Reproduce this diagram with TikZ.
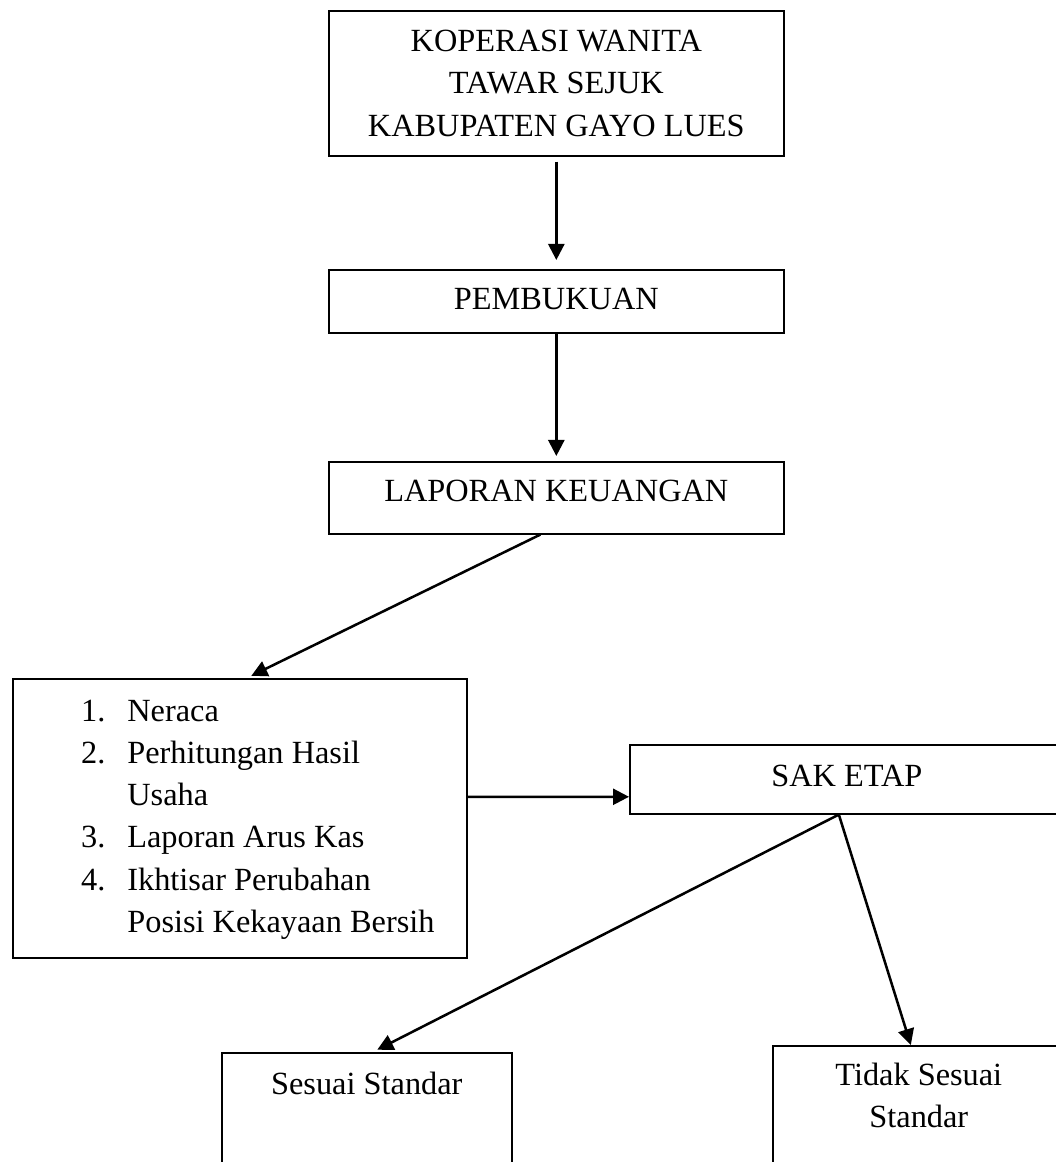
\documentclass[tikz,border=0pt]{standalone}
\usepackage{fontspec}
\setmainfont{Liberation Serif}
\usetikzlibrary{arrows.meta}

\begin{document}
\begin{tikzpicture}[x=0.025cm, y=-0.025cm]
    \tikzset{block/.style={rectangle, draw, line width=1.1pt, inner sep=0pt, anchor=north west, font=\fontsize{23pt}{30pt}\selectfont}}
    \tikzset{line/.style={draw, line width=1.8pt, -{Triangle[length=0.4cm, width=0.4cm]}}}
    \useasboundingbox (0,0) rectangle (1056,1162);

    \node[block, minimum width=11.375cm, minimum height=3.625cm, align=center] (koperasi) at (328,10) {KOPERASI WANITA\\TAWAR SEJUK\\KABUPATEN GAYO LUES};
    \node[block, minimum width=11.375cm, text height=1cm, text depth=0.575cm] (pembukuan) at (328,269) {PEMBUKUAN};
    \node[block, minimum width=11.375cm, text height=1cm, text depth=0.8cm] (laporan) at (328,461) {LAPORAN KEUANGAN};

    \node[block, minimum width=11.35cm, minimum height=6.975cm] (daftar) at (12,678) {%
      \begin{tabular}{@{\hspace{0.9cm}}l@{\hspace{0.55cm}}l@{}}
        1. & Neraca\\
        2. & Perhitungan Hasil\\
           & Usaha\\
        3. & Laporan Arus Kas\\
        4. & Ikhtisar Perubahan\\
           & Posisi Kekayaan Bersih
      \end{tabular}};
    \node[block, minimum width=10.85cm, text height=1.05cm, text depth=0.675cm] (sak) at (629,744) {SAK ETAP};

    \node[block, minimum width=7.25cm, text height=1.05cm, text depth=2.65cm] (sesuai) at (221,1052) {Sesuai Standar};
    \node[block, minimum width=7.3cm, text height=1cm, text depth=3.875cm] (tidak) at (772,1045) {%
      \begin{tabular}[t]{@{}c@{}}Tidak Sesuai\\Standar\end{tabular}};

    \draw[line, shorten <=0.125cm, shorten >=0.225cm] (koperasi.south) -- (pembukuan.north);
    \draw[line, shorten >=0.125cm] (pembukuan.south) -- (laporan.north);
    \draw[line, shorten >=0.125cm] ([xshift=-0.4cm]laporan.south) -- ([xshift=0.175cm]daftar.north);
    \draw[line] ([yshift=0.5375cm]daftar.east) -- ([yshift=-0.4375cm]sak.west);
    \draw[line, shorten >=0.125cm] ([xshift=-0.2cm]sak.south) -- ([xshift=0.15cm]sesuai.north);
    \draw[line] ([xshift=-0.2cm]sak.south) -- ([xshift=-0.2cm]tidak.north);
\end{tikzpicture}
\end{document}
